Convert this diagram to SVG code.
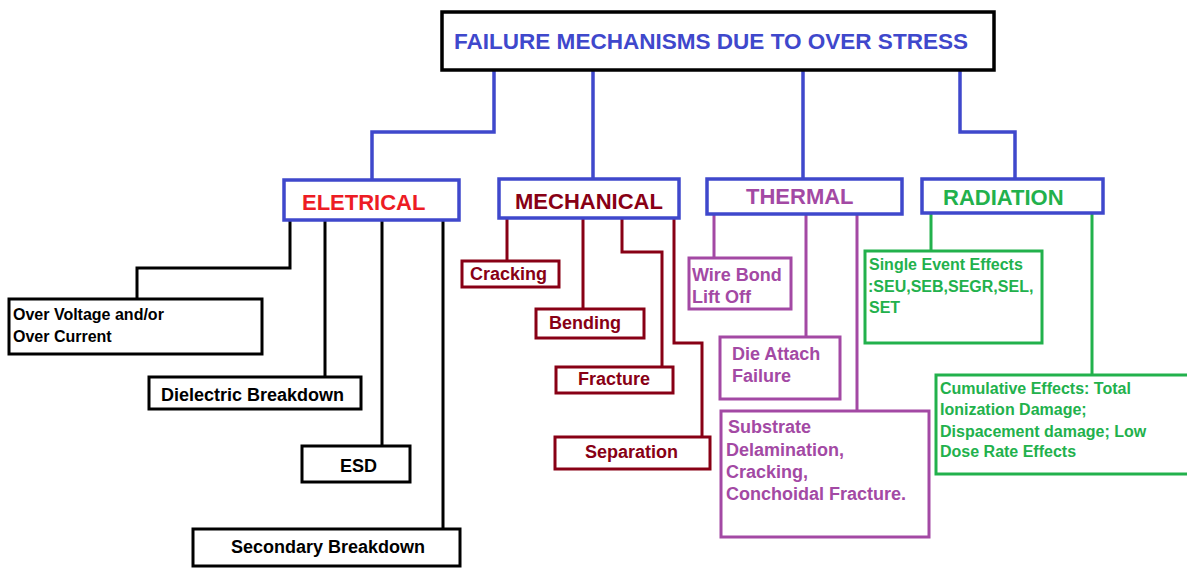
<svg xmlns="http://www.w3.org/2000/svg" width="1187" height="568" viewBox="0 0 1187 568">
<style>
text{font-family:"Liberation Sans",Arial,sans-serif;font-weight:bold}
.t1{font-size:22px}
.t2{font-size:18px}
.t3{font-size:16px}
rect{fill:#fff}
.lb{fill:none;stroke:#3F48CC;stroke-width:3.5}
.k{stroke:#000}
.dr{stroke:#880015}
.pu{stroke:#A349A4}
.gr{stroke:#22B14C}
.box{stroke-width:3}
.ln{fill:none;stroke-width:3}
</style>
<rect width="1187" height="568" fill="#fff"/>
<g id="connectors">
<path class="lb" d="M494 70V132H372V180M593 70V180M803 70V180M960 70V132H1015V180"/>
<path class="ln k" d="M290 220V268H137V299M325 220V377M382 220V446M443 220V529"/>
<path class="ln dr" d="M507 218V261M583 218V309M622 218V252H662V367M674 218V343H702V437"/>
<path class="ln pu" d="M714 214V258M806 214V337M857 214V411"/>
<path class="ln gr" d="M931 213V251M1092 213V375"/>
</g>
<g id="root"><rect x="442" y="12" width="552" height="58" stroke="#000" stroke-width="3.5"/><text class="t1" x="454" y="49" fill="#3F48CC" textLength="514" lengthAdjust="spacingAndGlyphs">FAILURE MECHANISMS DUE TO OVER STRESS</text></g>
<g id="eletrical"><rect x="284" y="180" width="175" height="40" class="lb" style="fill:#fff"/><text class="t1" x="302" y="210" fill="#ED1C24">ELETRICAL</text></g>
<g id="mechanical"><rect x="499" y="179" width="180" height="39" class="lb" style="fill:#fff"/><text class="t1" x="515" y="209" fill="#880015">MECHANICAL</text></g>
<g id="thermal"><rect x="707" y="179" width="195" height="35" class="lb" style="fill:#fff"/><text class="t1" x="746" y="204" fill="#A349A4">THERMAL</text></g>
<g id="radiation"><rect x="922" y="179" width="181" height="34" class="lb" style="fill:#fff"/><text class="t1" x="943" y="205" fill="#22B14C">RADIATION</text></g>
<g id="overvoltage"><rect x="9" y="299" width="253" height="55" class="box k"/><text class="t3" x="13" y="320">Over Voltage and/or</text><text class="t3" x="13" y="342">Over Current</text></g>
<g id="dielectric"><rect x="149" y="377" width="212" height="32" class="box k"/><text class="t2" x="161" y="401">Dielectric Breakdown</text></g>
<g id="esd"><rect x="302" y="446" width="108" height="36" class="box k"/><text class="t2" x="340" y="472">ESD</text></g>
<g id="secondary"><rect x="193" y="529" width="267" height="37" class="box k"/><text class="t2" x="231" y="553">Secondary Breakdown</text></g>
<g id="cracking"><rect x="462" y="261" width="97" height="26" class="box dr"/><text class="t2" x="470" y="280" fill="#880015">Cracking</text></g>
<g id="bending"><rect x="536" y="309" width="108" height="29" class="box dr"/><text class="t2" x="549" y="329" fill="#880015">Bending</text></g>
<g id="fracture"><rect x="556" y="367" width="117" height="26" class="box dr"/><text class="t2" x="578" y="385" fill="#880015">Fracture</text></g>
<g id="separation"><rect x="555" y="437" width="155" height="32" class="box dr"/><text class="t2" x="585" y="458" fill="#880015">Separation</text></g>
<g id="wirebond"><rect x="689" y="258" width="102" height="51" class="box pu"/><text class="t2" x="692" y="281" fill="#A349A4">Wire Bond</text><text class="t2" x="692" y="303" fill="#A349A4">Lift Off</text></g>
<g id="dieattach"><rect x="720" y="337" width="120" height="62" class="box pu"/><text class="t2" x="732" y="360" fill="#A349A4">Die Attach</text><text class="t2" x="732" y="382" fill="#A349A4">Failure</text></g>
<g id="substrate"><rect x="721" y="411" width="208" height="126" class="box pu"/><text class="t2" fill="#A349A4"><tspan x="728" y="433">Substrate</tspan><tspan x="726" y="456">Delamination,</tspan><tspan x="726" y="478">Cracking,</tspan><tspan x="726" y="500">Conchoidal Fracture.</tspan></text></g>
<g id="single"><rect x="865" y="251" width="177" height="92" class="box gr"/><text class="t3" fill="#22B14C"><tspan x="869" y="270">Single Event Effects</tspan><tspan x="868" y="292">:SEU,SEB,SEGR,SEL,</tspan><tspan x="869" y="313">SET</tspan></text></g>
<g id="cumulative"><rect x="936" y="375" width="256" height="99" class="box gr"/><text class="t3" fill="#22B14C"><tspan x="940" y="394">Cumulative Effects: Total</tspan><tspan x="940" y="415">Ionization Damage;</tspan><tspan x="940" y="437">Dispacement damage; Low</tspan><tspan x="940" y="457">Dose Rate Effects</tspan></text></g>
</svg>
